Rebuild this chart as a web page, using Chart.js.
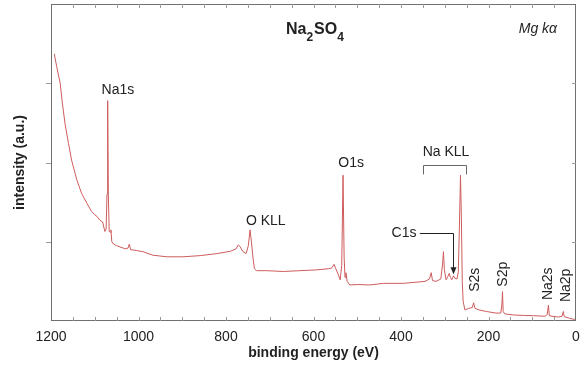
<!DOCTYPE html>
<html>
<head>
<meta charset="utf-8">
<script src="https://cdn.jsdelivr.net/npm/chart.js@4.4.0/dist/chart.umd.min.js"></script>
<style>
html, body { margin: 0; padding: 0; background: #fff; }
</style>
</head>
<body>
<canvas id="survey" width="581" height="370"></canvas>
<script>
// survey spectrum, Mg K-alpha source
const bindingEnergy = [
  1192.5, 1187, 1179, 1174, 1168, 1160, 1153, 1141, 1130, 1118, 1107, 1100, 1095, 1088, 1082,
  1077, 1074, 1072, 1070.5, 1069, 1067, 1065, 1063, 1061, 1057, 1050, 1040, 1030, 1024, 1021,
  1018, 1005, 990, 967, 935, 898, 859, 821, 790, 777, 772, 768, 762, 754, 749, 745, 742, 738,
  735, 730, 707, 669, 631, 593, 565, 558, 553, 549, 543, 539, 535.5, 532.5, 530, 528, 526, 523,
  517, 500, 471, 440, 395, 345, 335, 331, 328, 320, 309, 305, 303, 301, 297, 293, 290, 287,
  284, 280, 277, 272, 269, 266.5, 264, 262, 260, 258, 254, 245, 237, 234, 231, 222, 205, 183,
  172, 169.5, 168, 166.5, 163, 143, 120, 97, 71, 66, 63, 61, 40, 32, 29, 27, 15, 5, 2
];
const intensity = [
  3.37, 3.21, 3.00, 2.75, 2.49, 2.24, 2.03, 1.78, 1.61, 1.485, 1.38, 1.34, 1.32, 1.27, 1.25,
  1.13, 1.16, 1.6, 2.78, 1.6, 1.13, 1.12, 1.15, 1.00, 0.97, 0.95, 0.93, 0.91, 0.92, 0.97,
  0.90, 0.89, 0.875, 0.83, 0.81, 0.81, 0.825, 0.85, 0.88, 0.91, 0.96, 0.94, 0.88, 0.85, 0.95, 1.15, 1.0, 0.78,
  0.66, 0.635, 0.635, 0.625, 0.635, 0.645, 0.66, 0.67, 0.715, 0.66, 0.58, 0.52, 0.70, 1.84, 0.80, 0.55, 0.61, 0.50,
  0.455, 0.46, 0.455, 0.475, 0.475, 0.50, 0.53, 0.61, 0.51, 0.50, 0.53, 0.72, 0.875, 0.65, 0.52, 0.56, 0.60, 0.55,
  0.52, 0.57, 0.54, 0.53, 0.62, 1.2, 1.84, 1.3, 0.5, 0.25, 0.14, 0.16, 0.17, 0.23, 0.16, 0.14, 0.12, 0.10,
  0.10, 0.2, 0.37, 0.12, 0.09, 0.076, 0.07, 0.067, 0.06, 0.08, 0.20, 0.065, 0.05, 0.06, 0.12, 0.055, 0.035, 0.02, 0.025
];
const energyTicks = [1200, 1000, 800, 600, 400, 200, 0];
const intensityTicks = [1, 2, 3];

// peak labels, placed in (eV, intensity) coordinates
const peakLabels = [
  { text: 'Na1s',   e: 1047, v: 2.91, rot: false },
  { text: 'O KLL',  e: 709,  v: 1.26, rot: false },
  { text: 'O1s',    e: 514,  v: 1.99, rot: false },
  { text: 'Na KLL', e: 297,  v: 2.13, rot: false },
  { text: 'C1s',    e: 393,  v: 1.11, rot: false },
  { text: 'S2s',    e: 230,  v: 0.52, rot: true },
  { text: 'S2p',    e: 166,  v: 0.59, rot: true },
  { text: 'Na2s',   e: 64,   v: 0.47, rot: true },
  { text: 'Na2p',   e: 22,   v: 0.45, rot: true }
];
const kllBracket = { from: 349, to: 251, top: 1.97, leg: 1.85 };
const c1sArrow = { from: 357, at: 282, y: 1.11, tip: 0.59 };

const FONT = 'Arial, "Liberation Sans", sans-serif';
const INK = '#222';

const overlay = {
  id: 'overlay',
  afterDraw(chart) {
    const { ctx, chartArea: a, scales: { x, y } } = chart;
    const px = e => x.getPixelForValue(e);
    const py = v => y.getPixelForValue(v);
    ctx.save();

    // axis frame
    ctx.strokeStyle = '#707070';
    ctx.lineWidth = 1;
    ctx.strokeRect(a.left + 0.5, a.top + 0.5, a.right - a.left - 1, a.bottom - a.top - 1);

    // tick marks: inward on x (top and bottom), every 50 eV
    ctx.strokeStyle = '#9a9a9a';
    ctx.beginPath();
    for (let e = 50; e < 1200; e += 50) {
      const xx = Math.round(px(e)) + 0.5;
      ctx.moveTo(xx, a.bottom); ctx.lineTo(xx, a.bottom - 4);
      ctx.moveTo(xx, a.top); ctx.lineTo(xx, a.top + 4);
    }
    intensityTicks.forEach(v => {
      const yy = Math.round(py(v)) + 0.5;
      ctx.moveTo(a.left - 5, yy); ctx.lineTo(a.left, yy);
      ctx.moveTo(a.right - 4, yy); ctx.lineTo(a.right, yy);
    });
    ctx.stroke();

    // title with subscripts
    ctx.fillStyle = INK;
    ctx.textBaseline = 'alphabetic';
    ctx.textAlign = 'left';
    let tx = px(663);
    const ty = py(3.62);
    [['Na', false], ['2', true], ['SO', false], ['4', true]].forEach(([s, sub]) => {
      ctx.font = sub ? 'bold 12px ' + FONT : 'bold 16px ' + FONT;
      ctx.fillText(s, tx, sub ? ty + 7 : ty);
      tx += ctx.measureText(s).width + (sub ? 1 : 0);
    });
    ctx.font = 'italic 14px ' + FONT;
    ctx.textAlign = 'center';
    ctx.textBaseline = 'middle';
    ctx.fillText('Mg k\u03b1', px(87), py(3.68));

    // peak labels
    ctx.font = '14px ' + FONT;
    peakLabels.forEach(l => {
      ctx.save();
      ctx.translate(px(l.e), py(l.v));
      if (l.rot) ctx.rotate(-Math.PI / 2);
      ctx.fillText(l.text, 0, 0);
      ctx.restore();
    });

    // Na KLL bracket
    ctx.strokeStyle = '#666';
    ctx.beginPath();
    const bl = Math.round(px(kllBracket.from)) + 0.5, br = Math.round(px(kllBracket.to)) + 0.5;
    const bt = Math.round(py(kllBracket.top)) + 0.5, bb = py(kllBracket.leg);
    ctx.moveTo(bl, bb); ctx.lineTo(bl, bt); ctx.lineTo(br, bt); ctx.lineTo(br, bb);
    ctx.stroke();

    // C1s pointer
    ctx.strokeStyle = '#222';
    const ax = Math.round(px(c1sArrow.at)) + 0.5, ay = Math.round(py(c1sArrow.y)) + 0.5;
    const tipY = py(c1sArrow.tip);
    ctx.beginPath();
    ctx.moveTo(px(c1sArrow.from), ay); ctx.lineTo(ax, ay); ctx.lineTo(ax, tipY - 6);
    ctx.stroke();
    ctx.fillStyle = '#222';
    ctx.beginPath();
    ctx.moveTo(ax, tipY); ctx.lineTo(ax - 3, tipY - 7); ctx.lineTo(ax + 3, tipY - 7);
    ctx.closePath();
    ctx.fill();

    ctx.restore();
  }
};

new Chart(document.getElementById('survey'), {
  type: 'line',
  data: {
    datasets: [{
      data: bindingEnergy.map((e, i) => ({ x: e, y: intensity[i] })),
      borderColor: 'rgb(206, 92, 92)',
      borderWidth: 1,
      pointRadius: 0,
      tension: 0,
      fill: false
    }]
  },
  options: {
    responsive: false,
    animation: false,
    devicePixelRatio: 1,
    layout: { padding: { top: 4, right: 5, left: 0, bottom: 0 } },
    plugins: { legend: { display: false }, tooltip: { enabled: false } },
    scales: {
      x: {
        type: 'linear',
        reverse: true,
        min: 0,
        max: 1200,
        grid: { display: false, drawTicks: false },
        border: { display: false },
        afterBuildTicks: s => { s.ticks = energyTicks.map(v => ({ value: v })); },
        ticks: {
          font: { family: FONT, size: 14 },
          color: INK,
          padding: 8,
          maxRotation: 0,
          callback: v => String(v)
        },
        title: {
          display: true,
          text: 'binding energy (eV)',
          font: { family: FONT, size: 14, weight: 'bold' },
          color: INK,
          padding: { top: 0, bottom: 8 }
        },
        afterFit: s => { s.height = 49; s.paddingLeft = 0; s.paddingRight = 0; }
      },
      y: {
        min: 0,
        max: 4,
        grid: { display: false, drawTicks: false },
        border: { display: false },
        ticks: { display: false },
        title: {
          display: true,
          text: 'intensity (a.u.)',
          font: { family: FONT, size: 14, weight: 'bold' },
          color: INK,
          padding: { top: 12, bottom: 0 }
        },
        afterFit: s => { s.width = 51; }
      }
    }
  },
  plugins: [overlay]
});
</script>
</body>
</html>
